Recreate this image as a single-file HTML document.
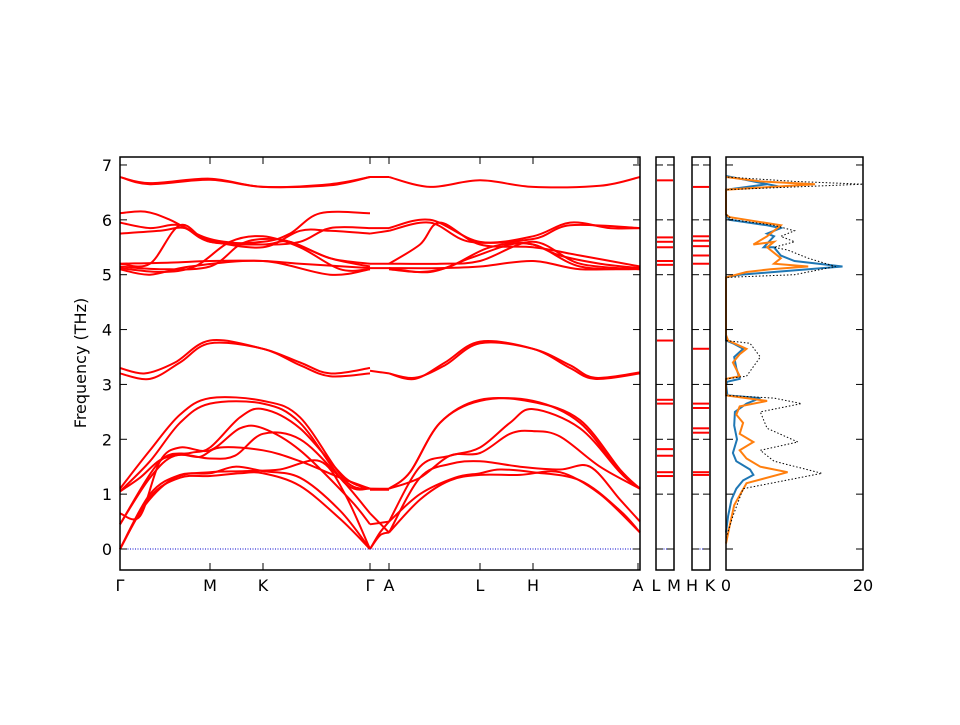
<!DOCTYPE html>
<html><head><meta charset="utf-8"><style>
body{margin:0;background:#fff}
svg text{font-family:"DejaVu Sans","Liberation Sans",sans-serif;font-size:16px}
</style></head><body>
<svg id="s" width="960" height="720" xmlns="http://www.w3.org/2000/svg">
<rect width="960" height="720" fill="#fff"/>
<g id="bands" fill="none" stroke="#f00" stroke-width="2"></g>
<line x1="120" y1="549" x2="640" y2="549" stroke="#00c" stroke-width="1" stroke-dasharray="1,1.5"/>
<line x1="656" y1="549" x2="674" y2="549" stroke="#00c" stroke-width="1" stroke-dasharray="1,1.5"/>
<line x1="692" y1="549" x2="710" y2="549" stroke="#00c" stroke-width="1" stroke-dasharray="1,1.5"/>
<g id="small" stroke="#f00" stroke-width="2"></g>
<g id="dos" fill="none" stroke-width="2"></g>
<g id="frames" fill="none" stroke="#000" stroke-width="1.5"></g>
<g id="ticks" stroke="#000" stroke-width="1"></g>
<g id="labels" fill="#000"></g>
<text x="0" y="0" transform="translate(86,363) rotate(-90)" text-anchor="middle">Frequency (THz)</text>
</svg>
<script>
var NS="http://www.w3.org/2000/svg";
function Y(f){return 549-54.86*f;}
function el(p,n,a){var e=document.createElementNS(NS,n);for(var k in a)e.setAttribute(k,a[k]);p.appendChild(e);return e;}
function cr(pts){
 var P=pts.map(function(p){return [p[0],Y(p[1])]});
 var d="M"+P[0][0]+","+P[0][1];
 for(var i=0;i<P.length-1;i++){
  var p0=P[i-1]||P[i],p1=P[i],p2=P[i+1],p3=P[i+2]||P[i+1];
  var c1=[p1[0]+(p2[0]-p0[0])/6,p1[1]+(p2[1]-p0[1])/6];
  var c2=[p2[0]-(p3[0]-p1[0])/6,p2[1]-(p3[1]-p1[1])/6];
  d+=" C"+c1[0].toFixed(1)+","+c1[1].toFixed(1)+" "+c2[0].toFixed(1)+","+c2[1].toFixed(1)+" "+p2[0].toFixed(1)+","+p2[1].toFixed(1);
 }
 return d;
}
var B=[
[[120,0],[150,0.95],[180,1.3],[210,1.33],[240,1.38],[263,1.38],[300,1.15],[340,0.55],[370,0]],
[[120,0],[150,1.0],[180,1.35],[210,1.38],[235,1.5],[263,1.42],[300,1.3],[340,0.7],[370,0]],
[[120,0],[145,0.8],[175,1.3],[210,1.4],[245,1.42],[280,1.45],[320,1.6],[345,1.0],[370,0]],
[[120,0.45],[150,1.3],[175,1.7],[210,1.65],[235,1.7],[263,2.1],[300,2.0],[340,1.3],[370,0.65]],
[[120,0.65],[140,0.6],[160,1.6],[180,1.85],[210,1.8],[240,2.2],[263,2.2],[300,1.8],[350,0.9],[370,0.45]],
[[120,0.45],[160,1.6],[190,1.75],[210,1.85],[240,2.4],[263,2.55],[300,2.2],[345,1.3],[370,1.1]],
[[120,1.05],[150,1.6],[180,2.3],[210,2.65],[263,2.65],[300,2.3],[345,1.2],[370,1.1]],
[[120,1.1],[150,1.8],[180,2.45],[210,2.75],[263,2.7],[300,2.4],[345,1.25],[370,1.1]],
[[120,1.05],[140,1.3],[160,1.62],[180,1.72],[200,1.68],[220,1.85],[263,1.8],[300,1.6],[340,1.3],[370,1.1]],
[[120,3.3],[145,3.2],[175,3.4],[210,3.8],[263,3.65],[300,3.4],[330,3.2],[370,3.3]],
[[120,3.2],[150,3.1],[180,3.4],[210,3.75],[263,3.65],[300,3.35],[330,3.15],[370,3.2]],
[[120,6.78],[150,6.65],[210,6.73],[263,6.6],[330,6.63],[370,6.78]],
[[120,6.78],[150,6.67],[210,6.75],[263,6.6],[330,6.65],[370,6.78]],
[[120,6.12],[145,6.15],[170,6.0],[210,5.65],[263,5.55],[300,5.6],[330,5.85],[370,5.85]],
[[120,5.95],[150,5.85],[180,5.9],[210,5.6],[263,5.6],[290,5.75],[320,6.12],[370,6.12]],
[[120,5.75],[160,5.8],[185,5.85],[210,5.62],[263,5.5],[300,5.8],[330,5.8],[370,5.75]],
[[120,5.2],[150,5.2],[180,5.9],[210,5.6],[263,5.55],[290,5.6],[330,5.3],[370,5.2]],
[[120,5.2],[170,5.22],[210,5.25],[263,5.25],[300,5.2],[370,5.12]],
[[120,5.15],[160,5.1],[210,5.15],[240,5.55],[263,5.65],[290,5.6],[330,5.3],[370,5.15]],
[[120,5.12],[160,5.05],[195,5.15],[230,5.6],[263,5.7],[300,5.5],[340,5.1],[370,5.1]],
[[120,5.1],[150,5.0],[190,5.15],[263,5.25],[330,5.0],[370,5.1]],
[[370,0],[380,0.3],[389,0.5]],[[370,0],[380,0.25],[389,0.3]],[[370,0.65],[389,0.3]],[[370,0.45],[389,0.5]],
[[370,1.1],[389,1.1]],[[370,1.08],[389,1.08]],[[370,3.25],[389,3.2]],[[370,6.78],[389,6.78]],
[[370,5.85],[389,5.85]],[[370,5.75],[389,5.8]],[[370,5.2],[389,5.2]],[[370,5.12],[389,5.12]],
[[389,0.3],[420,0.9],[450,1.25],[480,1.35],[520,1.35],[560,1.4],[600,1.0],[640,0.3]],
[[389,0.5],[420,1.0],[455,1.3],[480,1.38],[500,1.45],[533,1.4],[580,1.25],[620,0.7],[640,0.3]],
[[389,0.3],[420,1.3],[450,1.55],[480,1.6],[520,1.5],[560,1.45],[590,1.5],[620,0.9],[640,0.5]],
[[389,0.5],[420,1.5],[450,1.7],[480,1.85],[510,2.3],[533,2.55],[580,2.2],[620,1.4],[640,1.1]],
[[389,1.1],[410,1.4],[440,2.3],[480,2.7],[533,2.7],[580,2.3],[620,1.4],[640,1.1]],
[[389,1.1],[410,1.4],[440,2.3],[480,2.72],[533,2.68],[580,2.35],[620,1.45],[640,1.1]],
[[389,1.1],[420,1.3],[450,1.7],[480,1.75],[510,2.1],[533,2.15],[560,2.05],[600,1.5],[640,1.1]],
[[389,3.2],[415,3.1],[445,3.4],[480,3.78],[533,3.65],[570,3.3],[595,3.1],[640,3.2]],
[[389,3.2],[415,3.12],[445,3.35],[480,3.75],[533,3.65],[570,3.35],[595,3.12],[640,3.22]],
[[389,6.78],[430,6.6],[480,6.72],[533,6.6],[600,6.62],[640,6.78]],
[[389,5.85],[430,6.0],[480,5.6],[533,5.7],[570,5.95],[610,5.85],[640,5.85]],
[[389,5.8],[430,5.95],[470,5.6],[533,5.65],[570,5.9],[640,5.85]],
[[389,5.2],[420,5.55],[440,5.95],[480,5.55],[533,5.5],[580,5.35],[640,5.15]],
[[389,5.2],[440,5.2],[480,5.25],[533,5.6],[580,5.2],[640,5.1]],
[[389,5.12],[440,5.12],[480,5.15],[533,5.25],[580,5.1],[640,5.12]],
[[389,5.12],[430,5.05],[470,5.3],[510,5.55],[533,5.55],[560,5.35],[600,5.2],[640,5.12]],
[[389,5.1],[420,5.05],[450,5.15],[490,5.5],[533,5.55],[580,5.15],[640,5.1]]
];
var g=document.getElementById("bands");
B.forEach(function(b){el(g,"path",{d:cr(b)});});
var sm=document.getElementById("small");
[6.72,5.68,5.6,5.5,5.25,5.18,3.8,2.72,2.65,1.82,1.7,1.4,1.33].forEach(function(f){el(sm,"line",{x1:657,x2:673,y1:Y(f),y2:Y(f)});});
[6.6,5.7,5.62,5.52,5.35,5.2,3.65,2.65,2.57,2.2,2.12,1.4,1.35].forEach(function(f){el(sm,"line",{x1:693,x2:709,y1:Y(f),y2:Y(f)});});
function X(v){return 726+6.85*v;}
function pl(pts,attr){var d=pts.map(function(p,i){return (i?"L":"M")+X(p[0]).toFixed(1)+","+Y(p[1]).toFixed(1)}).join(" ");attr.d=d;el(document.getElementById("dos"),"path",attr);}
var blue=[[0,0.3],[0.3,0.6],[0.8,0.9],[1.5,1.1],[2.5,1.25],[4,1.35],[3.5,1.45],[1.5,1.6],[1,1.75],[1.6,2.0],[1.2,2.25],[1.3,2.5],[3,2.65],[5,2.75],[0.2,2.8],[0,3.0],[0.2,3.05],[2,3.1],[1.5,3.3],[1.2,3.5],[2.5,3.65],[1,3.75],[0,3.8],[0,4.95],[2,5.0],[7,5.05],[17,5.15],[10,5.25],[8,5.35],[7,5.5],[5.5,5.5],[7,5.7],[6,5.75],[8,5.85],[6,5.9],[0.5,6.0],[0,6.1],[0,6.55],[6,6.65],[8,6.6],[2,6.75],[0,6.8]];
var orange=[[0,0.1],[0.5,0.4],[1.2,0.8],[3,1.2],[9,1.4],[5,1.5],[3,1.65],[2,1.8],[4,1.95],[2,2.1],[2.5,2.3],[1.5,2.45],[2,2.6],[6,2.7],[0,2.8],[0,3.1],[2,3.15],[1,3.4],[2,3.55],[3,3.65],[0.3,3.8],[0,3.9],[0,4.95],[3,5.05],[6.5,5.1],[12,5.15],[7,5.2],[8,5.3],[6,5.5],[7,5.6],[4,5.55],[6,5.7],[8,5.9],[0.5,6.05],[0,6.1],[0,6.55],[13,6.65],[5,6.7],[0,6.78]];
var black=[[0,0.2],[1,0.6],[2.5,1.1],[14,1.38],[7,1.6],[5,1.8],[10.5,1.95],[6,2.2],[5,2.5],[11,2.65],[7,2.75],[0,2.8],[0,3.1],[3,3.15],[5,3.5],[3.5,3.75],[0,3.8],[0,4.95],[10,5.0],[16,5.15],[12,5.3],[9,5.45],[7,5.5],[10,5.6],[8,5.7],[10,5.8],[7,5.9],[1,6.0],[0,6.1],[0,6.55],[20,6.65],[10,6.7],[0,6.78]];
pl(blue,{stroke:"#1f77b4"});pl(orange,{stroke:"#ff7f0e"});pl(black,{stroke:"#000","stroke-width":1,"stroke-dasharray":"1.5,2"});
var fr=document.getElementById("frames");
[[120,640],[656,674],[692,710],[726,863]].forEach(function(r){el(fr,"rect",{x:r[0],y:157,width:r[1]-r[0],height:413});});
var tk=document.getElementById("ticks"),lb=document.getElementById("labels");
for(var f=0;f<=7;f++){var y=Y(f);
 el(tk,"line",{x1:120,x2:127,y1:y,y2:y});el(tk,"line",{x1:633,x2:640,y1:y,y2:y});
 [[656,674],[692,710],[726,863]].forEach(function(r){el(tk,"line",{x1:r[0],x2:r[0]+7,y1:y,y2:y});el(tk,"line",{x1:r[1]-7,x2:r[1],y1:y,y2:y});});
 var t=el(lb,"text",{x:112,y:y+6,"text-anchor":"end"});t.textContent=f;}
[["Γ",120],["M",210],["K",263],["Γ",370],["A",389],["L",480],["H",533],["A",638]].forEach(function(p){
 var x=p[1];
 el(tk,"line",{x1:x,x2:x,y1:157,y2:164});el(tk,"line",{x1:x,x2:x,y1:563,y2:570});
 var t=el(lb,"text",{x:x,y:591,"text-anchor":"middle"});t.textContent=p[0];});
[["L",656],["M",674],["H",692],["K",710]].forEach(function(p){var t=el(lb,"text",{x:p[1],y:591,"text-anchor":"middle"});t.textContent=p[0];});
[["0",726],["20",863]].forEach(function(p){el(tk,"line",{x1:p[1],x2:p[1],y1:563,y2:570});el(tk,"line",{x1:p[1],x2:p[1],y1:157,y2:164});var t=el(lb,"text",{x:p[1],y:591,"text-anchor":"middle"});t.textContent=p[0];});
</script>
</body></html>
